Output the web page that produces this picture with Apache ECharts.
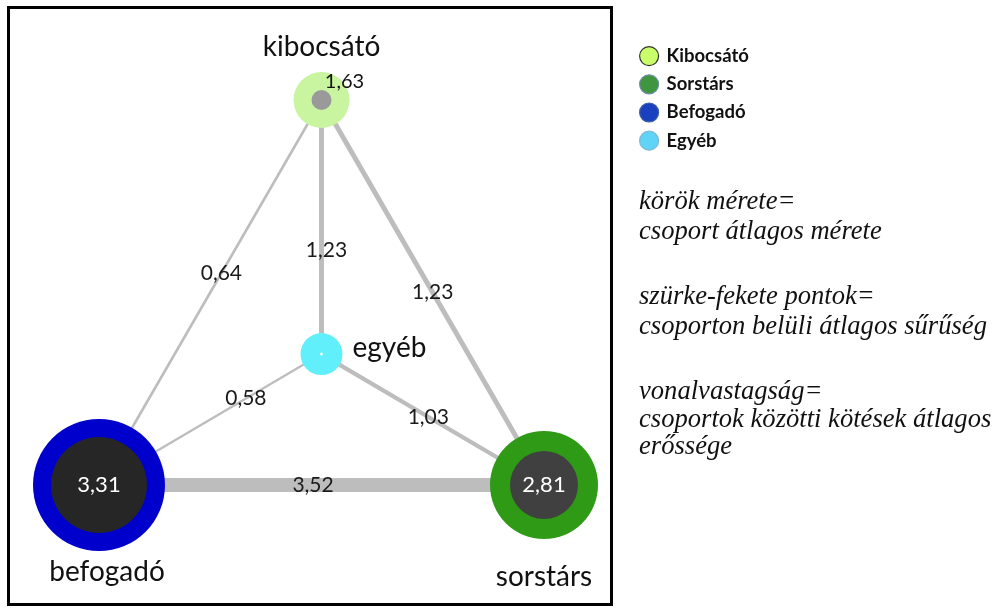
<!DOCTYPE html>
<html>
<head>
<meta charset="utf-8">
<script src="https://cdn.jsdelivr.net/npm/echarts@6/dist/echarts.min.js"></script>
<style>
  html, body { margin: 0; padding: 0; background: #fff; }
  #chart { width: 996px; height: 608px; }
</style>
</head>
<body>
<div id="chart"></div>
<script>
// ---------- DATA ----------
const categories = ['Kibocsátó', 'Sorstárs', 'Befogadó', 'Egyéb'];
const nodeNames = ['kibocsátó', 'sorstárs', 'befogadó', 'egyéb'];
// average density inside the group (grey-black dots)
const densities = [1.63, 2.81, 3.31, null];
// edges: average tie strength between groups
const edgeSource = ['kibocsátó', 'kibocsátó', 'kibocsátó', 'egyéb', 'egyéb', 'befogadó'];
const edgeTarget = ['egyéb', 'befogadó', 'sorstárs', 'befogadó', 'sorstárs', 'sorstárs'];
const edgeValues = [1.23, 0.64, 1.23, 0.58, 1.03, 3.52];
const notes = [
  'körök mérete=', 'csoport átlagos mérete',
  'szürke-fekete pontok=', 'csoporton belüli átlagos sűrűség',
  'vonalvastagság=', 'csoportok közötti kötések átlagos', 'erőssége'
];

// ---------- LAYOUT / STYLE ----------
const layoutX = [1, 2, 0, 1];
const layoutY = [0, 100, 100, 66];
const outerSize = [56, 108, 132, 42];
const innerSize = [20, 68, 96, 3];
const outerColor = ['#c9f5a0', '#2f9a16', '#0000cc', '#62effc'];
const innerColor = ['#9a9a9a', '#404040', '#262626', '#e8fbff'];
const legendColor = ['#c8ff6a', '#3f963f', '#1a40c0', '#5fd4f6'];
const legendBorder = ['#333333', '#6d8ea3', '#3a5fa6', '#7fb9d6'];
const labelCfg = [
  { position: 'top', distance: 11, offset: [0, 0] },
  { position: 'bottom', distance: 24, offset: [0, 0] },
  { position: 'bottom', distance: 7, offset: [8, 0] },
  { position: 'right', distance: 10, offset: [0, -6] }
];
const edgeLabelT = [0.59, 0.45, 0.5, 0.34, 0.48, 0.49];
const edgeLabelDx = [5, 0, 0, 0, 0, -4];
const noteY = [202, 232, 297, 327, 392, 420, 447];

const fontSans = 'Lato, "Open Sans", sans-serif';

const idx = n => nodeNames.indexOf(n);

const graphNodes = nodeNames.map((n, i) => ({
  name: n,
  category: i,
  value: [layoutX[i], layoutY[i]],
  symbolSize: outerSize[i],
  itemStyle: { color: outerColor[i], opacity: 1 },
  label: {
    show: true,
    position: labelCfg[i].position,
    distance: labelCfg[i].distance,
    offset: labelCfg[i].offset,
    formatter: n,
    fontFamily: fontSans,
    fontSize: 28,
    color: '#111'
  }
}));

const graphLinks = edgeValues.map((v, i) => ({
  source: edgeSource[i],
  target: edgeTarget[i],
  value: v,
  lineStyle: { width: v * 4, color: '#bdbdbd', opacity: 1, curveness: 0 }
}));

const innerData = nodeNames.map((n, i) => ({
  value: [layoutX[i], layoutY[i], densities[i]],
  symbolSize: innerSize[i],
  itemStyle: { color: innerColor[i], opacity: 1 },
  label: densities[i] == null ? { show: false } : (i === 0 ? {
    show: true, position: 'inside', offset: [23, -18],
    formatter: densities[i].toFixed(2).replace('.', ','),
    color: '#111', fontSize: 20, fontFamily: fontSans
  } : {
    show: true, position: 'inside',
    formatter: densities[i].toFixed(2).replace('.', ','),
    color: '#ffffff', fontSize: 22, fontFamily: fontSans
  })
}));

const edgeLabelData = edgeValues.map((v, i) => {
  const a = idx(edgeSource[i]), b = idx(edgeTarget[i]);
  const t = edgeLabelT[i];
  return {
    value: [layoutX[a] + (layoutX[b] - layoutX[a]) * t,
            layoutY[a] + (layoutY[b] - layoutY[a]) * t, v],
    label: { offset: [edgeLabelDx[i], 0] }
  };
});

const chart = echarts.init(document.getElementById('chart'), null, { renderer: 'canvas' });

chart.setOption({
  animation: false,
  backgroundColor: '#ffffff',
  grid: { left: 99, top: 100, width: 445, height: 385 },
  xAxis: { type: 'value', min: 0, max: 2, show: false },
  yAxis: { type: 'value', min: 0, max: 100, inverse: true, show: false },
  legend: {
    orient: 'vertical',
    left: 634,
    top: 41,
    itemWidth: 19,
    itemHeight: 19,
    itemGap: 8,
    icon: 'circle',
    selectedMode: false,
    textStyle: { fontFamily: fontSans, fontWeight: 'bold', fontSize: 18.5, color: '#111', padding: [0, 0, 0, 3] },
    data: categories.map((c, i) => ({
      name: c,
      itemStyle: { color: legendColor[i], borderColor: legendBorder[i], borderWidth: 1.2 }
    }))
  },
  graphic: [
    {
      type: 'rect', z: 100,
      shape: { x: 8.5, y: 7.5, width: 603, height: 597 },
      style: { fill: 'none', stroke: '#000', lineWidth: 3 }
    }
  ].concat(notes.map((t, i) => ({
    type: 'text',
    x: 639, y: noteY[i],
    style: {
      text: t,
      font: 'italic 26.6px "Liberation Serif", "Times New Roman", serif',
      fill: '#111',
      verticalAlign: 'middle'
    }
  }))),
  series: [
    {
      type: 'graph',
      coordinateSystem: 'cartesian2d',
      layout: 'none',
      z: 2,
      categories: categories.map((c, i) => ({ name: c, itemStyle: { color: outerColor[i] } })),
      data: graphNodes,
      links: graphLinks,
      emphasis: { disabled: true },
      edgeSymbol: ['none', 'none']
    },
    {
      type: 'scatter',
      z: 4,
      symbol: 'circle',
      data: innerData,
      silent: true
    },
    {
      type: 'scatter',
      z: 5,
      symbolSize: 1,
      itemStyle: { color: 'rgba(0,0,0,0)', opacity: 1 },
      silent: true,
      data: edgeLabelData,
      label: {
        show: true,
        position: 'inside',
        formatter: p => p.value[2].toFixed(2).replace('.', ','),
        color: '#1a1a1a',
        fontSize: 21,
        fontFamily: fontSans
      }
    }
  ]
});
</script>
</body>
</html>
